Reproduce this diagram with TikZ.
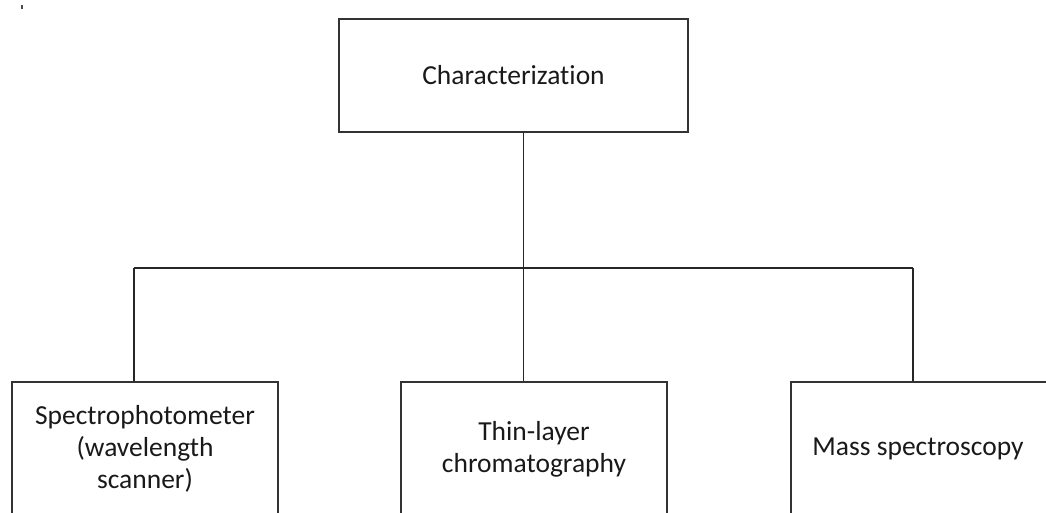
\documentclass[tikz,border=0pt]{standalone}
\usepackage{fontspec}
\setmainfont{Carlito}[Ligatures=NoCommon]
\begin{document}
\begin{tikzpicture}[x=1pt,y=-1pt,
  box/.style={draw=black!80,line width=1.7pt,rectangle,inner sep=0pt,align=center,
    font=\fontsize{27.5}{32}\selectfont,text=black!90},
  conn/.style={draw=black!85,line width=1.6pt}]
\useasboundingbox (0,0) rectangle (1046,512);
\clip (0,0) rectangle (1046,512);
\fill[black!70] (21,5) rectangle (23,9);
\node[box,minimum width=349pt,minimum height=113pt] (top) at (513.5,75.5) {Characterization};
\node[box,minimum width=266pt,minimum height=134pt] (b1) at (145,449) {Spectrophotometer\\(wavelength\\scanner)};
\node[box,minimum width=266pt,minimum height=134pt] (b2) at (534,449) {Thin-layer\\chromatography};
\node[box,minimum width=266pt,minimum height=134pt] (b3) at (924,449) {\hspace*{-12pt}Mass spectroscopy};
\coordinate (jm) at (523.5,268);
\coordinate (jl) at (134,268);
\coordinate (jr) at (913,268);
\draw[conn] (top.south -| jm) -- (jm);
\draw[conn] (jl) -- (jr);
\draw[conn] (jl) -- (jl |- b1.north);
\draw[conn] (jm) -- (jm |- b2.north);
\draw[conn] (jr) -- (jr |- b3.north);
\end{tikzpicture}
\end{document}
